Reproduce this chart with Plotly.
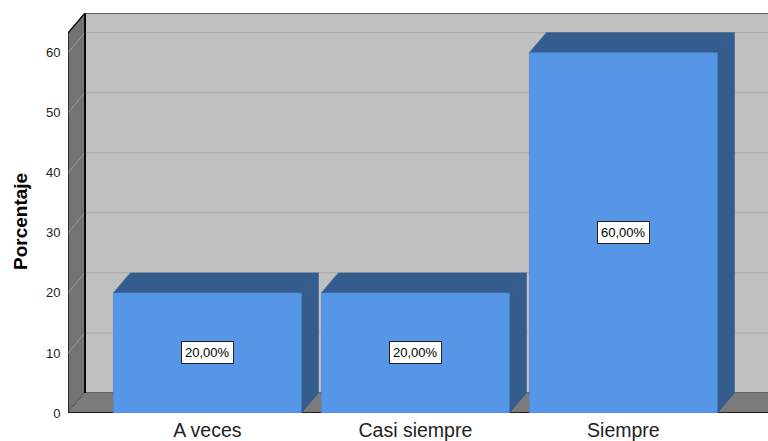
import plotly.graph_objects as go

categories = ["A veces", "Casi siempre", "Siempre"]
values = [20, 20, 60]
value_labels = ["20,00%", "20,00%", "60,00%"]
y_ticks = [0, 10, 20, 30, 40, 50, 60]
y_title = "Porcentaje"

W, H = 768, 441
ML, MT, MB, MR = 68, 13, 28, 0
plot_w = W - ML - MR
plot_h = H - MT - MB
px_cat = 208.0
x0 = -0.67
x1 = x0 + plot_w / px_cat
ymax = 66.6
px_unit = plot_h / ymax
DX = 17 / px_cat
DY = 20 / px_unit
half = 188 / px_cat / 2
far = x1 + 1

C_BACK = "#C0C0C0"
C_LEFT = "#737373"
C_FLOOR = "#7B7B7B"
C_GRID = "#A9A9A9"
C_GRID_L = "#9C9C9C"
C_FRONT = "#5596E6"
C_SIDE = "#345C8F"

fig = go.Figure()

def poly(xs, ys, fill, line="black", lw=1):
    fig.add_trace(go.Scatter(x=xs + [xs[0]], y=ys + [ys[0]], mode="lines", fill="toself",
                             fillcolor=fill, line=dict(color=line, width=lw),
                             hoverinfo="skip", showlegend=False))

def seg(xs, ys, color, lw=1):
    fig.add_trace(go.Scatter(x=xs, y=ys, mode="lines", line=dict(color=color, width=lw),
                             hoverinfo="skip", showlegend=False))

# back wall
poly([x0 + DX, far, far, x0 + DX], [DY, DY, ymax, ymax], C_BACK, "black", 1.2)
for t in y_ticks[1:]:
    seg([x0 + DX, far], [t + DY, t + DY], C_GRID, 1)
# left wall
poly([x0, x0, x0 + DX, x0 + DX], [0, ymax - DY, ymax, DY], C_LEFT, "black", 1.2)
for t in y_ticks:
    seg([x0, x0 + DX], [t, t + DY], C_GRID_L, 1)
# floor
poly([x0, far, far + DX, x0 + DX], [0, 0, DY, DY], C_FLOOR, C_FLOOR, 0.5)
seg([x0, far], [0, 0], "black", 1.5)
seg([x0 + DX, x0 + DX], [DY, ymax], "black", 1.5)

# bars
for i, v in enumerate(values):
    xl, xr = i - half, i + half
    poly([xr, xr + DX, xr + DX, xr], [0, DY, v + DY, v], C_SIDE, "#2F5584", 0.6)
    poly([xl, xr, xr + DX, xl + DX], [v, v, v + DY, v + DY], C_SIDE, "#2F5584", 0.6)
    poly([xl, xr, xr, xl], [0, 0, v, v], C_FRONT, "#4A86D0", 0.6)

for i, v in enumerate(values):
    fig.add_annotation(x=i, y=v / 2, text=value_labels[i], showarrow=False,
                       font=dict(family="Liberation Sans, Arial", size=13, color="black"),
                       bgcolor="white", bordercolor="#222222", borderwidth=1, borderpad=3)

fig.add_annotation(xref="paper", yref="paper", x=(20 - ML) / plot_w, y=(H - MB - 222) / plot_h,
                   text="<b>" + y_title + "</b>", textangle=-90, showarrow=False,
                   xanchor="center", yanchor="middle",
                   font=dict(family="Liberation Sans, Arial", size=19, color="black"))

fig.update_layout(
    width=W, height=H, margin=dict(l=ML, r=MR, t=MT, b=MB, autoexpand=False),
    paper_bgcolor="white", plot_bgcolor="white",
    xaxis=dict(range=[x0, x1], tickvals=list(range(len(categories))), ticktext=categories,
               showgrid=False, zeroline=False, showline=False, ticks="",
               ticklabelstandoff=3, automargin=False,
               tickfont=dict(family="Liberation Sans, Arial", size=19.5, color="#222222"),
               fixedrange=True),
    yaxis=dict(range=[0, ymax], tickvals=y_ticks, ticktext=[str(t) for t in y_ticks],
               showgrid=False, zeroline=False, showline=False, automargin=False,
               ticks="outside", ticklen=4, tickcolor="rgba(0,0,0,0)",
               tickfont=dict(family="Liberation Sans, Arial", size=13, color="#222222"),
               fixedrange=True),
    showlegend=False,
)

fig.write_html("out.html")
